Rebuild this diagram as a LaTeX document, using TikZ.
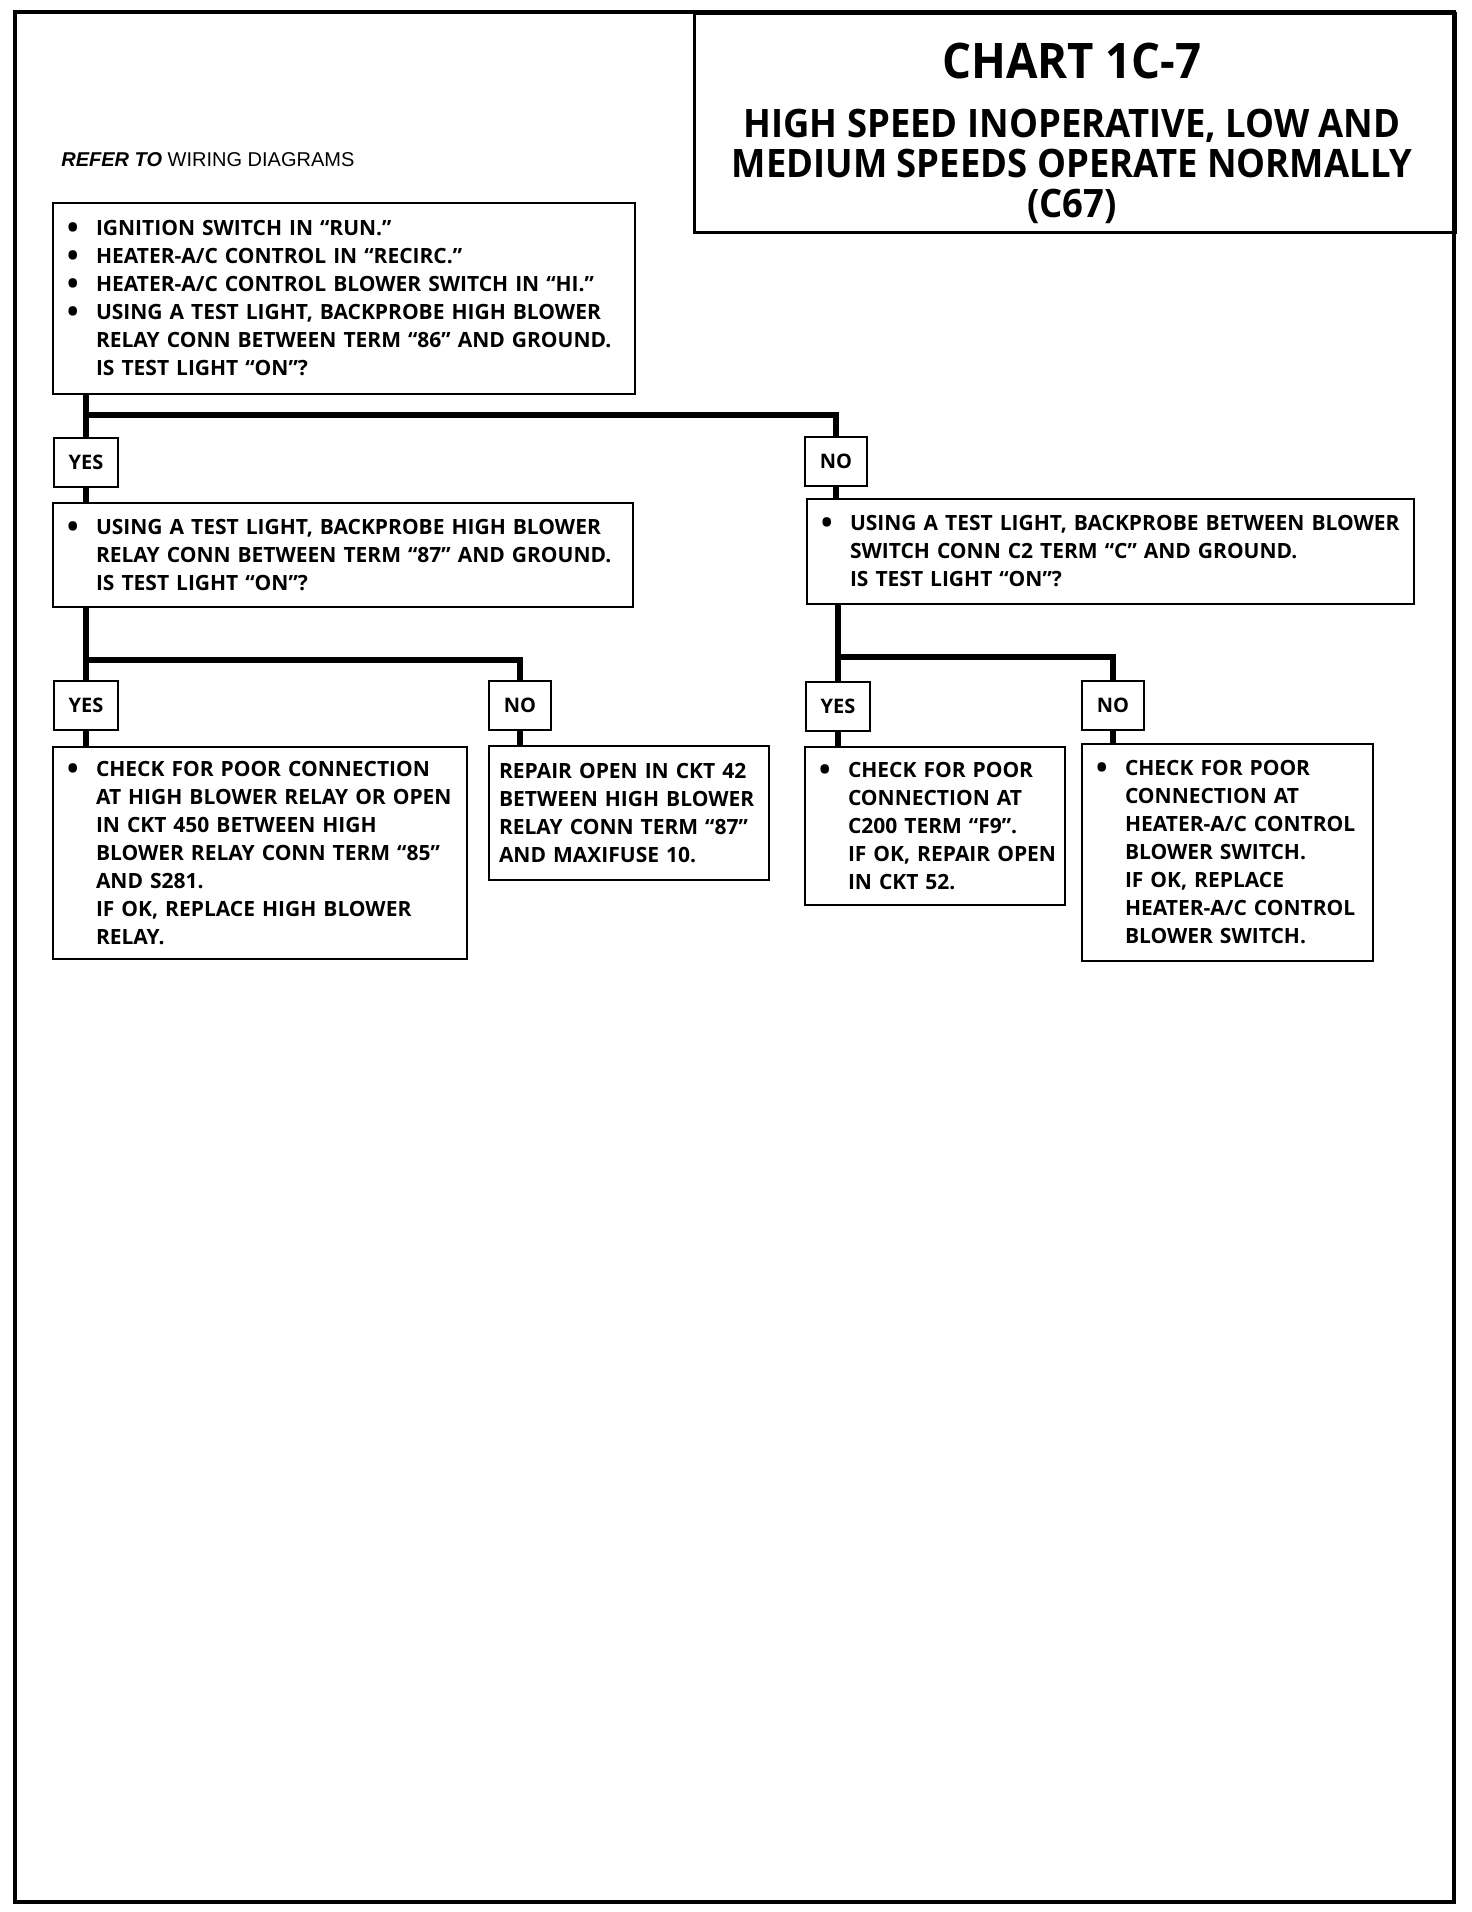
\documentclass[tikz,border=0pt]{standalone}
\usepackage{fontspec}
\setmainfont{Open Sans}
\newfontfamily\ttlfont{Open Sans}[FakeStretch=0.93]
\newfontfamily\reffont{Liberation Sans}
\usetikzlibrary{positioning}
\newcommand{\bl}[1]{\makebox[14.5pt][l]{\raisebox{-1.4pt}{\scalebox{1.45}{\textbullet}}}\mbox{#1}}
\newcommand{\il}[1]{\hspace*{14.5pt}\mbox{#1}}
\tikzset{
  frame/.style={draw, line width=2.2pt},
  ttlbox/.style={
    rectangle, draw, line width=1.5pt, anchor=north west,
    minimum width=380.5pt, minimum height=109.5pt, inner sep=0pt
  },
  check/.style={
    rectangle, draw, line width=1pt, fill=white, anchor=north west,
    align=left, inner xsep=7pt, inner ysep=0pt,
    font=\bfseries\fontsize{10.5}{14}\selectfont
  },
  tag/.style={
    rectangle, draw, line width=1pt, fill=white,
    inner xsep=7.5pt, inner ysep=0pt, minimum height=24.5pt,
    font=\bfseries\fontsize{10}{12}\selectfont
  },
  wire/.style={line width=3.3pt}
}
\begin{document}
\begin{tikzpicture}[x=0.5pt, y=-0.5pt]
    \useasboundingbox (0,0) rectangle (1472,1912);
    \draw[frame] (15,12) rectangle (1454,1902);

    %% ---- title -------------------------------------------------------
    \node[ttlbox] (ttl) at (693,12) {};
    \node[font=\ttlfont\bfseries\fontsize{24.5}{28}\selectfont]
      (chart) at (1072,61) {CHART 1C-7};
    \node[font=\ttlfont\bfseries\fontsize{19.6}{20}\selectfont, align=center]
      (sub) at (1072,166)
      {HIGH SPEED INOPERATIVE, LOW AND\\MEDIUM SPEEDS OPERATE NORMALLY\\(C67)};

    \node[anchor=west, inner sep=0pt, font=\reffont\fontsize{10}{12}\selectfont]
      (ref) at (61,160) {\textbf{\textit{REFER TO}} WIRING DIAGRAMS};

    %% ---- first check -------------------------------------------------
    \node[check, text width=277pt, minimum height=95.5pt] (q1) at (52,202)
      {\bl{IGNITION SWITCH IN “RUN.”}\\
       \bl{HEATER-A/C CONTROL IN “RECIRC.”}\\
       \bl{HEATER-A/C CONTROL BLOWER SWITCH IN “HI.”}\\
       \bl{USING A TEST LIGHT, BACKPROBE HIGH BLOWER}\\
       \il{RELAY CONN BETWEEN TERM “86” AND GROUND.}\\
       \il{IS TEST LIGHT “ON”?}};

    \node[tag] (a1) at (86,462) {YES};
    \node[tag] (n1) at (836,461) {NO};
    \coordinate (j1) at (86,415);

    %% ---- second level ------------------------------------------------
    \node[check, text width=276pt, minimum height=52pt] (q2l) at (52,502)
      {\bl{USING A TEST LIGHT, BACKPROBE HIGH BLOWER}\\
       \il{RELAY CONN BETWEEN TERM “87” AND GROUND.}\\
       \il{IS TEST LIGHT “ON”?}};
    \node[check, text width=289.5pt, minimum height=52.5pt] (q2r) at (806,498)
      {\bl{USING A TEST LIGHT, BACKPROBE BETWEEN BLOWER}\\
       \il{SWITCH CONN C2 TERM “C” AND GROUND.}\\
       \il{IS TEST LIGHT “ON”?}};

    \draw[wire] (q1.south -| a1) -- (a1.north);
    \draw[wire] (j1) -| (n1.north);
    \draw[wire] (a1.south) -- (a1.south |- q2l.north);
    \draw[wire] (n1.south) -- (n1.south |- q2r.north);

    \node[tag] (a2) at (86,705) {YES};
    \node[tag] (n2) at (520,705) {NO};
    \coordinate (j2) at (86,660);
    \node[tag] (a3) at (838,706) {YES};
    \node[tag] (n3) at (1113,705) {NO};
    \coordinate (j3) at (838,657);

    %% ---- results -----------------------------------------------------
    \node[check, text width=193pt, minimum height=106pt] (r1) at (52,746)
      {\bl{CHECK FOR POOR CONNECTION}\\
       \il{AT HIGH BLOWER RELAY OR OPEN}\\
       \il{IN CKT 450 BETWEEN HIGH}\\
       \il{BLOWER RELAY CONN TERM “85”}\\
       \il{AND S281.}\\
       \il{IF OK, REPLACE HIGH BLOWER}\\
       \il{RELAY.}};
    \node[check, inner xsep=5pt, text width=130pt, minimum height=67pt] (r2) at (488,745)
      {\mbox{REPAIR OPEN IN CKT 42}\\
       \mbox{BETWEEN HIGH BLOWER}\\
       \mbox{RELAY CONN TERM “87”}\\
       \mbox{AND MAXIFUSE 10.}};
    \node[check, text width=116pt, minimum height=79pt] (r3) at (804,746)
      {\bl{CHECK FOR POOR}\\
       \il{CONNECTION AT}\\
       \il{C200 TERM “F9”.}\\
       \il{IF OK, REPAIR OPEN}\\
       \il{IN CKT 52.}};
    \node[check, text width=131.5pt, minimum height=108.5pt] (r4) at (1081,743)
      {\bl{CHECK FOR POOR}\\
       \il{CONNECTION AT}\\
       \il{HEATER-A/C CONTROL}\\
       \il{BLOWER SWITCH.}\\
       \il{IF OK, REPLACE}\\
       \il{HEATER-A/C CONTROL}\\
       \il{BLOWER SWITCH.}};

    \draw[wire] (q2l.south -| a2) -- (a2.north);
    \draw[wire] (j2) -| (n2.north);
    \draw[wire] (a2.south) -- (a2.south |- r1.north);
    \draw[wire] (n2.south) -- (n2.south |- r2.north);

    \draw[wire] (q2r.south -| a3) -- (a3.north);
    \draw[wire] (j3) -| (n3.north);
    \draw[wire] (a3.south) -- (a3.south |- r3.north);
    \draw[wire] (n3.south) -- (n3.south |- r4.north);

\end{tikzpicture}
\end{document}
